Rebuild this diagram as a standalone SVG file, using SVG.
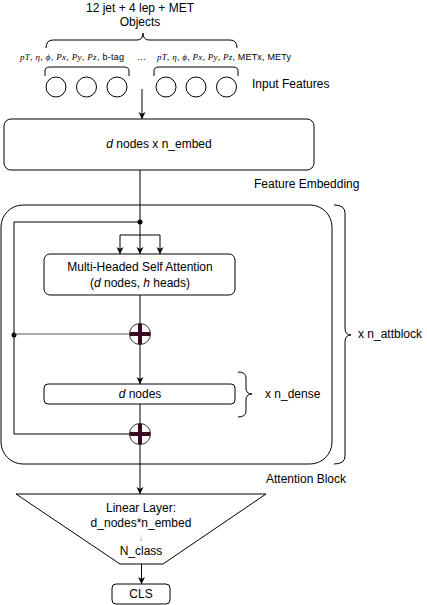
<svg xmlns="http://www.w3.org/2000/svg" width="427" height="605" viewBox="0 0 427 605">
<style>
text{font-family:"Liberation Sans",Arial,sans-serif;font-size:12px;fill:#000}
.m{font-family:"Liberation Serif","Times New Roman",serif;font-style:italic}
.s{font-size:9px}
.box{fill:#fff;stroke:#000;stroke-width:1}
.ln{fill:none;stroke:#000;stroke-width:1}
.gl{fill:none;stroke:#555;stroke-width:1}
.br{fill:none;stroke:#000;stroke-width:1}
.cir{fill:#fff;stroke:#000;stroke-width:1}
.sum{fill:#fff;stroke:#333;stroke-width:1}
.cross{stroke:#3a0a22;stroke-width:4}
</style>
<defs>
<marker id="arr" markerWidth="8" markerHeight="8" refX="7" refY="4" orient="auto" markerUnits="userSpaceOnUse">
<path d="M0,0.5 L7,4 L0,7.5 L2,4 Z" fill="#000"/>
</marker>
</defs>

<g id="objects-label">
<text x="140" y="12" text-anchor="middle">12 jet + 4 lep + MET</text>
<text x="140" y="26" text-anchor="middle">Objects</text>
<path class="br" d="M46,48 Q46,40 53,40 H137 Q143,40 143,33 Q143,40 149,40 H230 Q237,40 237,48"/>
</g>

<g id="feature-labels">
<text class="s" x="20" y="60" textLength="104"><tspan class="m">pT</tspan>, <tspan class="m">η</tspan>, <tspan class="m">ϕ</tspan>, <tspan class="m">Px</tspan>, <tspan class="m">Py</tspan>, <tspan class="m">Pz</tspan>, b-tag</text>
<text class="s" x="137" y="60">…</text>
<text class="s" x="157" y="60" textLength="134"><tspan class="m">pT</tspan>, <tspan class="m">η</tspan>, <tspan class="m">ϕ</tspan>, <tspan class="m">Px</tspan>, <tspan class="m">Py</tspan>, <tspan class="m">Pz</tspan>, METx, METy</text>
<path class="br" d="M45,76 V71 Q45,67 50,67 H124 Q129,67 129,71 V76"/>
<path class="br" d="M154,76 V71 Q154,67 159,67 H233 Q238,67 238,71 V76"/>
</g>

<g id="input-features">
<circle class="cir" cx="56" cy="87" r="10"/>
<circle class="cir" cx="86.5" cy="87" r="10"/>
<circle class="cir" cx="117" cy="87" r="10"/>
<circle class="cir" cx="166" cy="87" r="10"/>
<circle class="cir" cx="196" cy="87" r="10"/>
<circle class="cir" cx="226.5" cy="87" r="10"/>
<text x="252" y="88">Input Features</text>
</g>

<g id="feature-embedding">
<rect class="box" x="4" y="119" width="310" height="51" rx="7"/>
<text x="159" y="148" text-anchor="middle"><tspan font-style="italic">d</tspan> nodes x n_embed</text>
<text x="254" y="188">Feature Embedding</text>
</g>

<g id="attention-block">
<rect class="box" x="1" y="205" width="331" height="259" rx="22"/>
<text x="266" y="483">Attention Block</text>
<path class="br" d="M334,205 Q345,205 345,213 V328 Q345,335 351,335 Q345,335 345,342 V456 Q345,464 334,464"/>
<text x="358" y="338">x n_attblock</text>
</g>

<g id="mhsa">
<rect class="box" x="44" y="254" width="191" height="41" rx="6"/>
<text x="140" y="271" text-anchor="middle">Multi-Headed Self Attention</text>
<text x="140" y="287" text-anchor="middle">(<tspan font-style="italic">d</tspan> nodes, <tspan font-style="italic">h</tspan> heads)</text>
</g>

<g id="dense">
<rect class="box" x="44" y="384" width="191" height="20" rx="4"/>
<text x="140" y="398" text-anchor="middle"><tspan font-style="italic">d</tspan> nodes</text>
<path class="br" d="M238,372 Q246,372 246,378 V388 Q246,394 252,394 Q246,394 246,400 V411 Q246,417 238,417"/>
<text x="265" y="398">x n_dense</text>
</g>

<g id="sum1">
<circle class="sum" cx="140" cy="334" r="10.5"/>
<line class="cross" x1="140" y1="324" x2="140" y2="344"/>
<line class="cross" x1="130" y1="334" x2="150" y2="334"/>
</g>

<g id="sum2">
<circle class="sum" cx="140" cy="434" r="10.5"/>
<line class="cross" x1="140" y1="424" x2="140" y2="444"/>
<line class="cross" x1="130" y1="434" x2="150" y2="434"/>
</g>

<g id="linear-layer">
<polygon class="box" points="16,494 266,494 163,564 120,564"/>
<text x="141" y="512" text-anchor="middle">Linear Layer:</text>
<text x="141" y="527" text-anchor="middle">d_nodes*n_embed</text>
<text x="141" y="541" text-anchor="middle" style="font-size:10px;fill:#999">↓</text>
<text x="141" y="555" text-anchor="middle">N_class</text>
</g>

<g id="cls">
<rect class="box" x="112" y="584" width="58" height="20" rx="4"/>
<text x="141" y="598" text-anchor="middle">CLS</text>
</g>

<g id="connectors">
<line class="ln" x1="142" y1="89" x2="142" y2="119" marker-end="url(#arr)"/>
<line class="ln" x1="140" y1="170" x2="140" y2="235"/>
<circle cx="140" cy="222" r="2.5" fill="#000"/>
<path class="ln" d="M140,222 H14 V434 H129.5"/>
<circle cx="14" cy="335" r="2.5" fill="#000"/>
<line class="gl" x1="14" y1="334" x2="129.5" y2="334"/>
<line class="ln" x1="120" y1="235" x2="160" y2="235"/>
<line class="ln" x1="120" y1="235" x2="120" y2="254" marker-end="url(#arr)"/>
<line class="ln" x1="140" y1="235" x2="140" y2="254" marker-end="url(#arr)"/>
<line class="ln" x1="160" y1="235" x2="160" y2="254" marker-end="url(#arr)"/>
<line class="ln" x1="140" y1="295" x2="140" y2="323.5"/>
<line class="ln" x1="140" y1="344.5" x2="140" y2="384" marker-end="url(#arr)"/>
<line class="ln" x1="140" y1="404" x2="140" y2="423.5"/>
<line class="ln" x1="140" y1="444.5" x2="140" y2="494" marker-end="url(#arr)"/>
<line class="ln" x1="141.5" y1="564" x2="141.5" y2="584" marker-end="url(#arr)"/>
</g>
</svg>
